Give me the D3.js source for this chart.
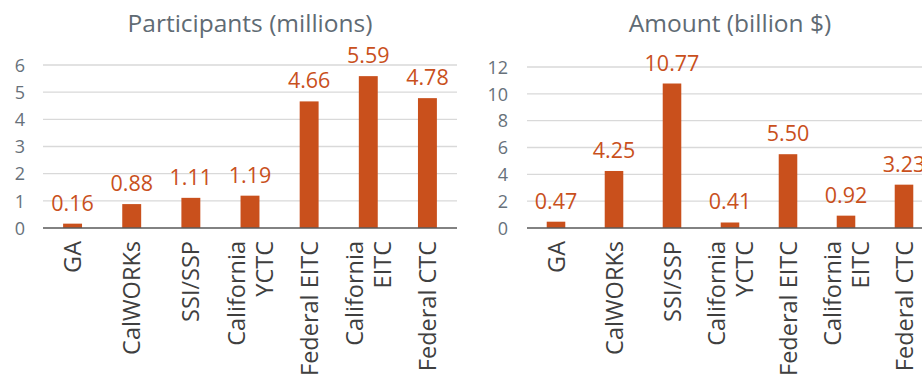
<!DOCTYPE html>
<html>
<head>
  <meta charset="UTF-8">
  <title>Participants and Amount</title>
  <script src="https://d3js.org/d3.v7.min.js"></script>
  <style>
    body { margin: 0; background: #fff; }
    svg { font-family: "Open Sans", sans-serif; display: block; }
  </style>
</head>
<body>
  <div id="chart"></div>
  <script>
    // programs, as shown on both panels
    const programs = ["GA", "CalWORKs", "SSI/SSP", "California\nYCTC", "Federal EITC", "California\nEITC", "Federal CTC"];
    const participants = [0.16, 0.88, 1.11, 1.19, 4.66, 5.59, 4.78];
    const amounts = [0.47, 4.25, 10.77, 0.41, 5.50, 0.92, 3.23];
    const participantTicks = [0, 1, 2, 3, 4, 5, 6];
    const amountTicks = [0, 2, 4, 6, 8, 10, 12];

    const W = 922, H = 374;
    const barColor = "#c9501c";

    const svg = d3.select("#chart")
      .append("svg")
      .attr("width", W)
      .attr("height", H);

    function panel(opts) {
      const x = d3.scaleBand()
        .domain(programs)
        .range([opts.x0, opts.x1])
        .paddingInner(0.68)
        .paddingOuter(0.34);

      const y = d3.scaleLinear()
        .domain([0, d3.max(opts.ticks)])
        .range([228, opts.yTop]);

      const g = svg.append("g");

      // gridlines
      g.selectAll(".grid")
        .data(opts.ticks.filter(t => t > 0))
        .join("line")
        .attr("x1", opts.x0)
        .attr("x2", opts.x1)
        .attr("y1", d => y(d))
        .attr("y2", d => y(d))
        .attr("stroke", "#d9d9d9")
        .attr("stroke-width", 1.3);

      // y axis labels
      const yAxis = g.append("g")
        .attr("transform", "translate(" + opts.x0 + ",0)")
        .call(d3.axisLeft(y).tickValues(opts.ticks).tickFormat(d3.format("d"))
          .tickSize(0).tickPadding(opts.tickPad));
      yAxis.select(".domain").remove();
      yAxis.selectAll("text")
        .attr("fill", "#67717a")
        .style("font-size", "18px")
        .style("font-family", "'Open Sans', sans-serif")
        .attr("dy", "0.35em");

      // bars
      g.selectAll(".bar")
        .data(opts.values)
        .join("rect")
        .attr("x", (d, i) => x(programs[i]))
        .attr("y", d => y(d))
        .attr("width", x.bandwidth())
        .attr("height", d => y(0) - y(d))
        .attr("fill", barColor);

      // value labels
      g.selectAll(".val")
        .data(opts.values)
        .join("text")
        .attr("x", (d, i) => x(programs[i]) + x.bandwidth() / 2)
        .attr("y", d => y(d) - 13)
        .attr("text-anchor", "middle")
        .attr("fill", barColor)
        .style("font-size", "21.5px")
        .text(d => d.toFixed(2));

      // x axis line
      g.append("line")
        .attr("x1", opts.x0)
        .attr("x2", opts.x1)
        .attr("y1", y(0))
        .attr("y2", y(0))
        .attr("stroke", "#595959")
        .attr("stroke-width", 1.5);

      // category labels, rotated
      programs.forEach(function(p) {
        const lines = p.split("\n");
        const cx = x(p) + x.bandwidth() / 2;
        lines.forEach(function(line, j) {
          const off = (j - (lines.length - 1) / 2) * 28;
          g.append("text")
            .attr("transform", "translate(" + (cx + off + 8.5) + ",241) rotate(-90)")
            .attr("text-anchor", "end")
            .attr("fill", "#3f3f3f")
            .style("font-size", "23.5px")
            .text(line);
        });
      });

      // title
      g.append("text")
        .attr("x", (opts.x0 + opts.x1) / 2)
        .attr("y", 32)
        .attr("text-anchor", "middle")
        .attr("fill", "#5f6b74")
        .style("font-size", "24.5px")
        .text(opts.title);
    }

    panel({ title: "Participants (millions)", values: participants, ticks: participantTicks,
            x0: 43, x1: 457, yTop: 65, tickPad: 18 });
    panel({ title: "Amount (billion $)", values: amounts, ticks: amountTicks,
            x0: 527, x1: 933, yTop: 67, tickPad: 19 });
  </script>
</body>
</html>
